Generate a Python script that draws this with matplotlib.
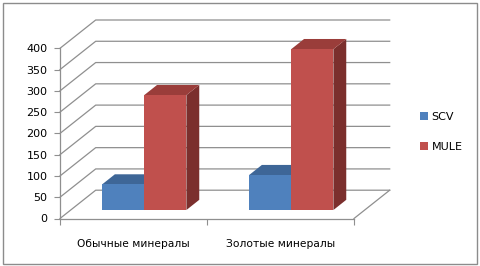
import matplotlib
matplotlib.use('Agg')
import matplotlib.pyplot as plt
from matplotlib.patches import Polygon, Rectangle, Patch
from matplotlib.transforms import offset_copy

categories = ['Обычные минералы', 'Золотые минералы']
series_names = ['SCV', 'MULE']
scv = [60, 82]
mule = [270, 378]
yticks = [0, 50, 100, 150, 200, 250, 300, 350, 400]

front_colors = ['#4F81BD', '#C0504D']
top_colors = ['#3E6697', '#9A3D3A']
side_colors = ['#345782', '#7B2F2D']
grid_color = '#8F8F8F'

plt.rcParams['font.family'] = ['DejaVu Sans']

W, H = 480, 266
fig = plt.figure(figsize=(W / 100, H / 100), dpi=100)

def fx(px):
    return px / W

def fy(py):
    return 1 - py / H

# front plane in pixels
X0, X1 = 60, 354
Y0, Y1 = 218.5, 48.3
ax = fig.add_axes([fx(X0), fy(Y0), (X1 - X0) / W, (Y0 - Y1) / H])
ax.set_xlim(0, 2)
ax.set_ylim(0, 400)
ax.patch.set_visible(False)

# depth of the 3D box in pixels
WDX, WDY = 35.7, 28.3
ddx = WDX / (X1 - X0) * 2
ddy = WDY / (Y0 - Y1) * 400

def P(x, y, d):
    return (x + d * ddx, y + d * ddy)

# walls and gridlines
for v in yticks:
    ax.plot([0, ddx, 2 + ddx], [v, v + ddy, v + ddy], color=grid_color,
            lw=0.9, clip_on=False, zorder=1)
ax.plot([2, 2 + ddx], [0, ddy], color=grid_color, lw=0.9, clip_on=False, zorder=1)

for s in ['top', 'right']:
    ax.spines[s].set_visible(False)
for s in ['left', 'bottom']:
    ax.spines[s].set_color(grid_color)
    ax.spines[s].set_linewidth(0.9)

ax.set_yticks(yticks)
ax.set_yticklabels([str(v) for v in yticks])
ax.tick_params(axis='y', direction='out', length=4, color=grid_color,
               labelsize=8, pad=5, labelcolor='#000000')
ax.set_xticks([0, 1, 2])
ax.set_xticklabels(['', '', ''])
ax.tick_params(axis='x', which='major', direction='out', length=4, color=grid_color)
ax.set_xticks([0.5, 1.5], minor=True)
ax.set_xticklabels(categories, minor=True)
ax.tick_params(axis='x', which='minor', length=0, labelsize=7.7, pad=15)

# bars
f0, f1 = 0.30, 0.66
bw = 0.287
front_tr = offset_copy(ax.transData, fig=fig, x=f0 * WDX, y=f0 * WDY, units='dots')
values = [scv, mule]
for i in range(len(categories)):
    for k, vals in enumerate(values):
        h = vals[i]
        xc = i + 0.5 + (k - 0.5) * bw
        xl, xr = xc - bw / 2, xc + bw / 2
        side = Polygon([P(xr, 0, f0), P(xr, h, f0), P(xr, h, f1), P(xr, 0, f1)],
                       closed=True, facecolor=side_colors[k], edgecolor='none',
                       clip_on=False, zorder=3 + k)
        top = Polygon([P(xl, h, f0), P(xr, h, f0), P(xr, h, f1), P(xl, h, f1)],
                      closed=True, facecolor=top_colors[k], edgecolor='none',
                      clip_on=False, zorder=3 + k)
        ax.add_patch(side)
        ax.add_patch(top)
        ax.bar([xc], [h], width=bw, color=front_colors[k], transform=front_tr,
               clip_on=False, zorder=3.5 + k)

# legend
handles = [Patch(facecolor=c, edgecolor='none') for c in front_colors]
fig.legend(handles, series_names, loc='center left',
           bbox_to_anchor=(fx(416), fy(132)), frameon=False,
           handlelength=0.7, handleheight=0.7, handletextpad=0.3,
           labelspacing=1.8, fontsize=8, borderaxespad=0)

# outer border
fig.patches.append(Rectangle((fx(2.5), fy(263.5)), fx(477) - fx(2.5), fy(2.5) - fy(263.5),
                             transform=fig.transFigure, fill=False,
                             edgecolor='#8C8C8C', lw=1.0))

fig.savefig('out.png', dpi=100)
